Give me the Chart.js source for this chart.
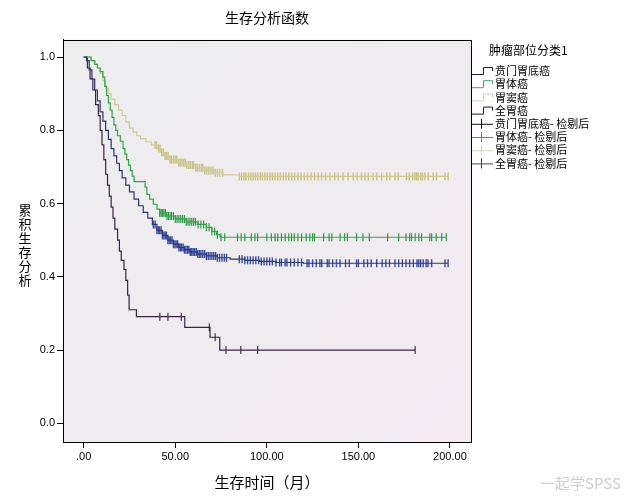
<!DOCTYPE html>
<html>
<head>
<meta charset="utf-8">
<script src="https://cdn.jsdelivr.net/npm/chart.js@4.4.1/dist/chart.umd.min.js"></script>
<style>
  html, body { margin: 0; padding: 0; background: #fff; }
  #wrap { width: 629px; height: 504px; }
</style>
</head>
<body>
<div id="wrap"><canvas id="km" width="629" height="504"></canvas></div>
<script>
const CHART_TITLE = '生存分析函数';
const X_TITLE = '生存时间（月）';
const Y_TITLE = '累积生存分析';
const LEGEND_TITLE = '肿瘤部位分类1';
const GROUPS = ['贲门胃底癌', '胃体癌', '胃窦癌', '全胃癌'];
const CENSOR_SUFFIX = '- 检剔后';

const xTickValues = [0, 50, 100, 150, 200];
const xTickLabels = ['.00', '50.00', '100.00', '150.00', '200.00'];
const yTickValues = [0, 0.2, 0.4, 0.6, 0.8, 1.0];
const yTickLabels = ['0.0', '0.2', '0.4', '0.6', '0.8', '1.0'];

// 贲门胃底癌
const cardiaTimes = [0, 1.5, 3, 4.5, 6, 7.5, 9, 10.5, 12, 13.5, 15, 16.5, 18, 19.5, 21, 23, 25, 27.5, 30, 32.5, 35, 37.5, 40, 43, 46, 49, 52, 55, 58, 62, 67, 73, 80, 88, 96, 105, 120, 199];
const cardiaSurv = [1, 0.99, 0.965, 0.94, 0.91, 0.88, 0.85, 0.825, 0.8, 0.775, 0.75, 0.73, 0.71, 0.69, 0.67, 0.65, 0.632, 0.612, 0.594, 0.576, 0.56, 0.543, 0.527, 0.513, 0.5, 0.489, 0.48, 0.474, 0.468, 0.462, 0.457, 0.452, 0.448, 0.445, 0.442, 0.439, 0.437, 0.437];
const cardiaCensor = [38, 39, 40, 40.8, 41.5, 42.3, 43, 43.8, 44.5, 45.2, 46, 46.7, 47.5, 48.2, 49, 49.8, 50.5, 51.3, 52, 52.8, 53.5, 54.3, 55, 55.8, 56.6, 57.4, 58.2, 59, 59.8, 60.6, 61.5, 62.3, 63.2, 64, 65, 66, 67, 68, 69, 70, 71, 72, 73, 74.2, 75.5, 76.8, 78,
  85, 86.5, 88, 89.5, 91, 92.5, 94, 95.5, 97, 98.5, 100, 101.5, 103, 105, 107,
  108, 110, 111, 113, 115, 117, 119, 122, 123, 125, 127, 129, 130, 133, 134, 136, 138, 140, 143, 145, 149, 150, 153, 155, 157, 160, 163, 165, 167, 170, 172, 174, 176, 178, 180, 182, 183, 184, 185.4, 187, 188, 190, 197.3, 199];

// 胃体癌
const bodyTimes = [0, 4, 6, 7.5, 9, 10.5, 11.5, 12.5, 13.5, 14.5, 15.5, 16.5, 17.5, 18.5, 20, 21.5, 22.5, 23.5, 24.5, 25.5, 26.5, 27.5, 33.5, 34.5, 36, 38, 40, 41.5, 45, 50, 56, 62, 67, 70, 72.5, 74.5, 198];
const bodySurv = [1, 0.99, 0.98, 0.97, 0.96, 0.945, 0.92, 0.895, 0.875, 0.855, 0.835, 0.815, 0.8, 0.785, 0.77, 0.75, 0.735, 0.72, 0.705, 0.69, 0.675, 0.66, 0.645, 0.625, 0.612, 0.598, 0.585, 0.574, 0.566, 0.558, 0.55, 0.543, 0.535, 0.524, 0.515, 0.508, 0.508];
const bodyCensor = [41.5, 42.3, 43, 43.8, 44.6, 45.5, 46.3, 47.2, 48, 49, 50, 51, 52, 53, 54, 55, 56, 57, 58, 59, 60, 61, 62.5, 64, 65.5, 67, 68.5, 70, 71.5, 73, 75,
  77, 84, 86, 88, 91.5, 93.5, 95, 100, 102.5, 104.5, 106, 108, 110, 112, 113.5, 115, 117, 119, 121.5, 123.5, 125, 126, 131, 134, 135.5, 140, 142.5, 144, 149, 152.5, 156, 166, 172, 176, 178, 179, 181, 183, 184.5, 189, 190, 192.5, 195.5, 198];

// 胃窦癌
const antrumTimes = [0, 4, 6, 7.5, 9, 10.5, 12, 13.5, 15, 17, 19, 21, 23, 25, 27, 29, 31, 34, 37, 40, 42, 44, 47, 51, 56, 61, 66, 71, 76, 85, 199];
const antrumSurv = [1, 0.99, 0.98, 0.97, 0.955, 0.935, 0.915, 0.9, 0.885, 0.87, 0.855, 0.84, 0.822, 0.806, 0.795, 0.785, 0.777, 0.768, 0.76, 0.75, 0.74, 0.73, 0.72, 0.712, 0.705, 0.698, 0.69, 0.684, 0.678, 0.674, 0.674];
const antrumCensor = [39, 39.8, 40.9, 41.7, 42.6, 43.4, 44.5, 45.3, 46.1, 47.2, 48, 49.1, 49.9, 50.8, 51.9, 52.7, 53.6, 54.6, 55.5, 56.3, 57.4, 58.2, 59.3, 60.1, 61.2, 62, 63.1, 64.2, 65, 66.1, 67.2, 68.3, 69.5, 70.6, 71.8, 73, 74.3, 75.8,
  85, 86.2, 87.5, 88.6, 90, 91.3, 92.5, 93.8, 95, 96.4, 97.6, 99, 100.3, 101.7, 103, 104.5, 106, 107.4, 109, 110.5, 112, 113.6, 115.2, 117, 118.7, 120.5, 122.3, 124.2, 126, 128, 130, 132.2, 134.5, 137, 139,
  141.7, 144.4, 147.2, 149.3, 151.7, 153.6, 155.4, 158.1, 160, 162.7, 165.4, 167.2, 170, 171.8, 176.3, 177.8, 179.6, 180.9, 181.8, 182.7, 184, 185, 186.3, 188.1, 190.9, 192.7, 197.3, 199];

// 全胃癌
const totalTimes = [0, 2, 3.5, 5, 6.5, 8, 9, 10, 11, 12, 13, 14, 15, 16, 17, 18.5, 19.5, 20.5, 22, 23, 24, 24.8, 28.8, 55.2, 69, 74.3, 181];
const totalSurv = [1, 0.97, 0.94, 0.91, 0.87, 0.84, 0.8, 0.76, 0.72, 0.68, 0.65, 0.62, 0.59, 0.56, 0.53, 0.5, 0.47, 0.445, 0.42, 0.39, 0.35, 0.31, 0.291, 0.262, 0.235, 0.2, 0.2];
const totalCensor = [41.6, 46, 53.3, 68.6, 71.8, 77.7, 85.8, 95, 181];

const lineColors = ['#2c3672', '#36a04a', '#cfcb95', '#3a2342'];
const markColors = ['#3b4d9e', '#2f9a45', '#c9c389', '#4d2f55'];
const markWidths = [1.4, 1.2, 1.4, 1.2];
const legendLineColors = ['#1e2240', '#4aa070', '#d6d4b4', '#1a1a1a'];
const legendMarkColors = ['#111111', '#3aa050', '#d8d4a8', '#4a4050'];

function toSteps(times, surv) {
  return times.map((t, i) => ({ x: t, y: surv[i] }));
}

function survAt(times, surv, t) {
  let value = surv[0];
  for (let i = 0; i < times.length; i += 1) {
    if (times[i] <= t) value = surv[i];
  }
  return value;
}

function toCensor(times, surv, censor) {
  return censor.map((t) => ({ x: t, y: survAt(times, surv, t) }));
}

const groupsData = [
  [cardiaTimes, cardiaSurv, cardiaCensor],
  [bodyTimes, bodySurv, bodyCensor],
  [antrumTimes, antrumSurv, antrumCensor],
  [totalTimes, totalSurv, totalCensor],
];

const datasets = [];
groupsData.forEach(([times, surv], i) => {
  datasets.push({
    type: 'line',
    label: GROUPS[i],
    data: toSteps(times, surv),
    stepped: 'before',
    borderColor: lineColors[i],
    borderWidth: 1.2,
    pointRadius: 0,
    fill: false,
  });
});
groupsData.forEach(([times, surv, censor], i) => {
  datasets.push({
    type: 'scatter',
    label: GROUPS[i] + CENSOR_SUFFIX,
    data: toCensor(times, surv, censor),
    pointStyle: 'line',
    rotation: 90,
    pointRadius: 4,
    borderWidth: markWidths[i],
    borderColor: markColors[i],
    backgroundColor: markColors[i],
  });
});

const plotBackground = {
  id: 'plotBackground',
  beforeDraw(chart) {
    const { ctx, chartArea: a } = chart;
    ctx.save();
    const g = ctx.createLinearGradient(a.left, a.top, a.right, a.bottom);
    g.addColorStop(0, '#ededee');
    g.addColorStop(0.55, '#efecef');
    g.addColorStop(1, '#f5ebf4');
    ctx.fillStyle = g;
    ctx.fillRect(a.left, a.top, a.right - a.left, a.bottom - a.top);
    ctx.restore();
  },
  afterDraw(chart) {
    const { ctx, chartArea: a } = chart;
    ctx.save();
    ctx.strokeStyle = '#000';
    ctx.lineWidth = 1;
    ctx.strokeRect(Math.round(a.left) + 0.5, Math.round(a.top) + 0.5, Math.round(a.right - a.left), Math.round(a.bottom - a.top));
    ctx.restore();
  },
};

const sideTexts = {
  id: 'sideTexts',
  afterDraw(chart) {
    const ctx = chart.ctx;
    ctx.save();
    ctx.textBaseline = 'middle';

    // y axis title, one character per line
    ctx.fillStyle = '#000';
    ctx.textAlign = 'center';
    ctx.font = '13px "Noto Sans CJK SC"';
    Array.from(Y_TITLE).forEach((ch, i) => ctx.fillText(ch, 25, 210 + i * 14));

    // legend
    ctx.textAlign = 'left';
    ctx.font = '12px "Noto Sans CJK SC"';
    ctx.fillText(LEGEND_TITLE, 489, 50);
    ctx.font = '11px "Noto Sans CJK SC"';
    const labels = GROUPS.concat(GROUPS.map((g) => g + CENSOR_SUFFIX));
    labels.forEach((text, i) => {
      const y = 71 + i * 13.2;
      ctx.lineWidth = 1;
      if (i < 4) {
        ctx.strokeStyle = legendLineColors[i];
        ctx.beginPath();
        ctx.moveTo(472, y + 3.5);
        ctx.lineTo(483.5, y + 3.5);
        ctx.lineTo(483.5, y - 3.5);
        ctx.lineTo(492.5, y - 3.5);
        ctx.lineTo(492.5, y);
        ctx.stroke();
      } else {
        ctx.strokeStyle = legendMarkColors[i - 4];
        ctx.beginPath();
        ctx.moveTo(472, y + 0.5);
        ctx.lineTo(493, y + 0.5);
        ctx.moveTo(481.5, y - 5);
        ctx.lineTo(481.5, y + 5);
        ctx.stroke();
      }
      ctx.fillStyle = '#000';
      ctx.fillText(text, 495, y);
    });

    // watermark
    ctx.fillStyle = '#cdcdcd';
    ctx.font = '15px "Noto Sans CJK SC"';
    ctx.fillText('一起学SPSS', 540, 483);
    ctx.restore();
  },
};

const axisFont = { family: '"Liberation Sans", Arial, sans-serif', size: 11 };

new Chart(document.getElementById('km'), {
  data: { datasets },
  plugins: [plotBackground, sideTexts],
  options: {
    responsive: false,
    animation: false,
    layout: { padding: { left: 0, right: 158, top: 0, bottom: 0 } },
    plugins: {
      legend: { display: false },
      tooltip: { enabled: false },
      title: {
        display: true,
        text: CHART_TITLE,
        fullSize: false,
        color: '#000',
        font: { family: '"Noto Sans CJK SC"', size: 14, weight: 'normal' },
        padding: { top: 9, bottom: 14 },
      },
    },
    scales: {
      x: {
        type: 'linear',
        min: -11.3,
        max: 211.5,
        afterBuildTicks: (scale) => { scale.ticks = xTickValues.map((v) => ({ value: v })); },
        afterFit: (scale) => { scale.height = 62; },
        ticks: {
          color: '#000',
          font: axisFont,
          padding: 2,
          maxRotation: 0,
          callback: (value) => xTickLabels[xTickValues.indexOf(value)],
        },
        grid: { drawOnChartArea: false, color: '#000', tickLength: 6 },
        border: { color: '#000' },
        title: {
          display: true,
          text: X_TITLE,
          color: '#000',
          font: { family: '"Noto Sans CJK SC"', size: 15 },
          padding: { top: 0, bottom: 13 },
        },
      },
      y: {
        type: 'linear',
        min: -0.051,
        max: 1.047,
        afterBuildTicks: (scale) => { scale.ticks = yTickValues.map((v) => ({ value: v })); },
        afterFit: (scale) => { scale.width = 63; },
        ticks: {
          color: '#000',
          font: axisFont,
          padding: 2,
          callback: (value) => yTickLabels[yTickValues.indexOf(value)],
        },
        grid: { drawOnChartArea: false, color: '#000', tickLength: 6 },
        border: { color: '#000' },
      },
    },
  },
});
</script>
</body>
</html>
